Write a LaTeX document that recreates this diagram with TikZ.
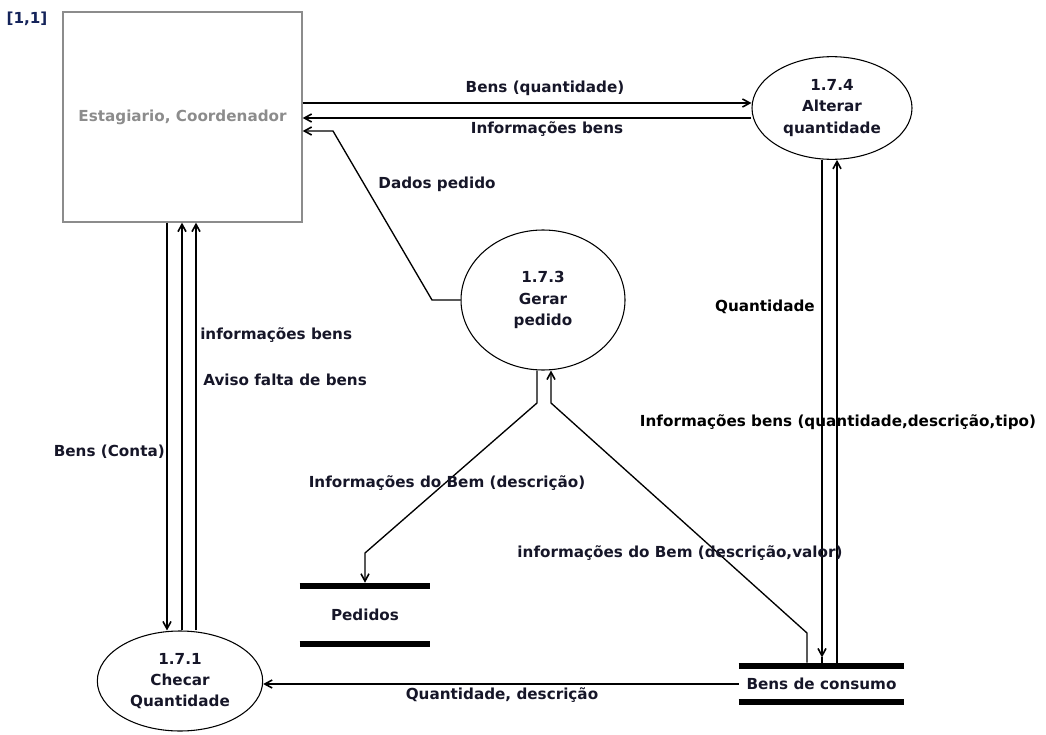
\documentclass[tikz,border=0pt]{standalone}
\usepackage{fontspec}
\setmainfont{DejaVu Sans}
\usetikzlibrary{arrows.meta,shapes.geometric,calc}
\definecolor{txt}{RGB}{22,22,40}
\definecolor{tagc}{RGB}{20,35,90}
\definecolor{boxc}{RGB}{140,140,140}
\newcommand\lblfont{\fontsize{11.4}{15.8}\selectfont\bfseries}
\tikzset{
  lbl/.style={font=\lblfont, text=txt, inner sep=0pt},
  heavy/.style={text=black},
  proc/.style={ellipse, draw=black, line width=0.8pt, inner sep=0pt, align=center, font=\lblfont, text=txt},
  ext/.style={rectangle, draw=boxc, line width=1pt, inner sep=0pt, font=\lblfont, text=boxc},
  store/.style={rectangle, inner sep=0pt, font=\lblfont, text=txt},
  bar/.style={line width=4.6pt, line cap=butt},
  flow/.style={line width=1pt, -{Straight Barb[length=5.5pt,width=6pt,line width=1.2pt]}},
  plain/.style={line width=1pt}
}
\begin{document}
\begin{tikzpicture}[x=0.75pt,y=-0.75pt]
\useasboundingbox (0,0) rectangle (1046,735);
% nodes
\node[lbl, text=tagc] (tag) at (27,19) {[1,1]};
\node[ext, minimum width=179.25pt, minimum height=157.5pt] (box) at (182.5,117) {Estagiario, Coordenador};
\node[proc, minimum width=120pt, minimum height=77pt] (p174) at (832,108) {1.7.4\\Alterar\\quantidade};
\node[proc, minimum width=123pt, minimum height=105pt] (p173) at (543,300) {1.7.3\\Gerar\\pedido};
\node[proc, minimum width=124pt, minimum height=75pt] (p171) at (180,681) {1.7.1\\Checar\\Quantidade};
\node[store, minimum width=97.5pt, minimum height=48pt] (ped) at (365,615) {\raisebox{-1.5pt}{Pedidos}};
\node[store, minimum width=123.75pt, minimum height=31.5pt] (bens) at (821.5,684) {Bens de consumo};
% store bars
\draw[bar] ([yshift=-2.3pt]ped.north west) -- ([yshift=-2.3pt]ped.north east);
\draw[bar] ([yshift=2.3pt]ped.south west) -- ([yshift=2.3pt]ped.south east);
\draw[bar] ([yshift=-2.3pt]bens.north west) -- ([yshift=-2.3pt]bens.north east);
\draw[bar] ([yshift=2.3pt]bens.south west) -- ([yshift=2.3pt]bens.south east);
% helper coordinates
\coordinate (h103) at (0,103);
\coordinate (h118) at (0,118);
\coordinate (h131) at (0,131);
\coordinate (v167) at (167,0);
\coordinate (v182) at (182,0);
\coordinate (v196) at (196,0);
\coordinate (v822) at (822,0);
\coordinate (v837) at (837,0);
\coordinate (v537) at (537,0);
\coordinate (v551) at (551,0);
\coordinate (v807) at (807,0);
% top flows
\draw[flow] (box.east |- h103) -- (p174.west |- h103);
\draw[flow] (p174.west |- h118) -- (box.east |- h118);
\draw[flow] (p173.west) -- (432,300) -- (333,131) -- (box.east |- h131);
% left verticals
\draw[flow] (box.south -| v167) -- (p171.north -| v167);
\draw[flow] (p171.north -| v182) -- (box.south -| v182);
\draw[flow] (p171.north -| v196) -- (box.south -| v196);
% right verticals
\draw[flow] (p174.south -| v822) -- ([yshift=4pt]bens.north -| v822);
\draw[plain] ([yshift=4pt]bens.north -| v822) -- (bens.north -| v822);
\draw[flow] (bens.north -| v837) -- (p174.south -| v837);
% 1.7.3 bottom
\draw[flow] (p173.south -| v537) -- (537,403) -- (365,553) -- (ped.north);
\draw[flow] (bens.north -| v807) -- (807,633) -- (551,403) -- (p173.south -| v551);
% bottom
\draw[flow] (bens.west) -- (bens.west -| p171.east);
% labels
\node[lbl] (l1) at (545,88) {Bens (quantidade)};
\node[lbl] (l2) at (547,129) {Informações bens};
\node[lbl] (l3) at (437,184) {Dados pedido};
\node[lbl, heavy, anchor=east] (l4) at (815,307) {Quantidade};
\node[lbl, heavy] (l5) at (838,422) {Informações bens (quantidade,descrição,tipo)};
\node[lbl, anchor=west] (l6) at (200,335) {informações bens};
\node[lbl, anchor=west] (l7) at (203,380) {Aviso falta de bens};
\node[lbl, anchor=east] (l8) at (165,452) {Bens (Conta)};
\node[lbl] (l9) at (447,483) {Informações do Bem (descrição)};
\node[lbl] (l10) at (680,553) {informações do Bem (descrição,valor)};
\node[lbl] (l11) at (502,695) {Quantidade, descrição};
\end{tikzpicture}
\end{document}
